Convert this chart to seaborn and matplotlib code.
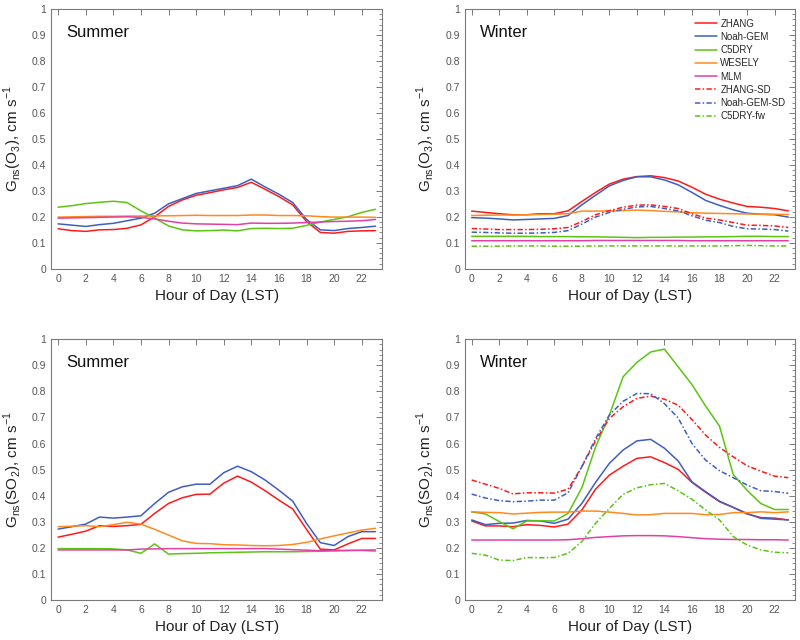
import numpy as np
import pandas as pd
import matplotlib
matplotlib.use("Agg")
import matplotlib.pyplot as plt
from matplotlib.ticker import MultipleLocator
import seaborn as sns

# ---------------------------------------------------------
# DADOS
# ---------------------------------------------------------
hours = list(range(24))

# Summer O3
o3_sum_zhang = [0.154, 0.147, 0.144, 0.150, 0.151, 0.156, 0.169, 0.200, 0.240, 0.265, 0.283, 0.293,
                0.304, 0.313, 0.333, 0.306, 0.278, 0.246, 0.182, 0.140, 0.137, 0.144, 0.146, 0.147]
o3_sum_noah = [0.173, 0.168, 0.163, 0.170, 0.175, 0.185, 0.195, 0.214, 0.250, 0.270, 0.290, 0.300,
               0.310, 0.320, 0.345, 0.315, 0.287, 0.255, 0.190, 0.150, 0.147, 0.155, 0.159, 0.164]
o3_sum_c5dry = [0.237, 0.243, 0.251, 0.256, 0.260, 0.255, 0.223, 0.195, 0.165, 0.150, 0.146, 0.147,
                0.149, 0.146, 0.155, 0.156, 0.155, 0.156, 0.167, 0.180, 0.190, 0.200, 0.217, 0.229]
o3_sum_wesely = [0.199, 0.200, 0.201, 0.202, 0.202, 0.203, 0.203, 0.204, 0.204, 0.205, 0.206, 0.205,
                 0.205, 0.205, 0.207, 0.207, 0.205, 0.205, 0.204, 0.201, 0.199, 0.199, 0.199, 0.198]
o3_sum_mlm = [0.195, 0.196, 0.197, 0.198, 0.199, 0.200, 0.198, 0.192, 0.183, 0.176, 0.173, 0.172,
              0.171, 0.170, 0.176, 0.175, 0.175, 0.176, 0.178, 0.180, 0.182, 0.183, 0.185, 0.190]

# Winter O3
o3_win_zhang = [0.222, 0.217, 0.212, 0.208, 0.208, 0.212, 0.212, 0.223, 0.259, 0.294, 0.326, 0.345,
                0.355, 0.358, 0.351, 0.338, 0.314, 0.287, 0.268, 0.253, 0.240, 0.237, 0.232, 0.223]
o3_win_noah = [0.197, 0.195, 0.192, 0.188, 0.190, 0.192, 0.194, 0.205, 0.246, 0.283, 0.319, 0.340,
               0.354, 0.354, 0.342, 0.323, 0.294, 0.263, 0.244, 0.227, 0.214, 0.210, 0.208, 0.199]
o3_win_c5dry = [0.125, 0.125, 0.125, 0.125, 0.125, 0.124, 0.124, 0.124, 0.123, 0.123, 0.122, 0.121,
                0.120, 0.121, 0.121, 0.122, 0.122, 0.123, 0.123, 0.124, 0.125, 0.125, 0.124, 0.124]
o3_win_wesely = [0.205, 0.206, 0.207, 0.207, 0.208, 0.209, 0.210, 0.212, 0.222, 0.222, 0.223, 0.224,
                 0.226, 0.224, 0.221, 0.219, 0.216, 0.214, 0.213, 0.212, 0.211, 0.210, 0.210, 0.209]
o3_win_mlm = [0.108, 0.108, 0.108, 0.108, 0.108, 0.108, 0.108, 0.108, 0.108, 0.109, 0.109, 0.109,
              0.109, 0.109, 0.109, 0.109, 0.108, 0.108, 0.108, 0.108, 0.108, 0.108, 0.108, 0.108]
o3_win_zhang_sd = [0.155, 0.153, 0.151, 0.151, 0.151, 0.152, 0.154, 0.159, 0.182, 0.208, 0.224, 0.237,
                   0.245, 0.246, 0.240, 0.232, 0.212, 0.195, 0.188, 0.178, 0.168, 0.167, 0.165, 0.159]
o3_win_noah_sd = [0.141, 0.140, 0.138, 0.137, 0.137, 0.138, 0.140, 0.147, 0.172, 0.199, 0.217, 0.229,
                  0.238, 0.240, 0.232, 0.223, 0.204, 0.187, 0.178, 0.163, 0.154, 0.153, 0.151, 0.145]
o3_win_c5dry_fw = [0.087, 0.087, 0.087, 0.088, 0.088, 0.088, 0.087, 0.087, 0.087, 0.088, 0.088, 0.088,
                   0.088, 0.088, 0.088, 0.088, 0.088, 0.088, 0.088, 0.089, 0.090, 0.089, 0.088, 0.088]

# Summer SO2
so2_sum_zhang = [0.241, 0.252, 0.264, 0.285, 0.282, 0.285, 0.290, 0.332, 0.370, 0.392, 0.405, 0.406,
                 0.448, 0.475, 0.452, 0.419, 0.383, 0.349, 0.271, 0.195, 0.192, 0.215, 0.236, 0.236]
so2_sum_noah = [0.272, 0.281, 0.291, 0.318, 0.314, 0.318, 0.323, 0.370, 0.413, 0.434, 0.444, 0.444,
                0.488, 0.513, 0.492, 0.460, 0.421, 0.379, 0.294, 0.220, 0.209, 0.243, 0.262, 0.262]
so2_sum_c5dry = [0.197, 0.197, 0.197, 0.197, 0.196, 0.192, 0.179, 0.215, 0.176, 0.178, 0.179, 0.181,
                 0.182, 0.183, 0.184, 0.185, 0.185, 0.185, 0.186, 0.187, 0.189, 0.190, 0.191, 0.193]
so2_sum_wesely = [0.281, 0.283, 0.285, 0.281, 0.289, 0.298, 0.291, 0.271, 0.249, 0.227, 0.217, 0.216,
                  0.212, 0.211, 0.209, 0.208, 0.209, 0.213, 0.221, 0.234, 0.246, 0.257, 0.268, 0.275]
so2_sum_mlm = [0.192, 0.192, 0.192, 0.192, 0.192, 0.192, 0.195, 0.196, 0.197, 0.197, 0.197, 0.197,
               0.197, 0.197, 0.197, 0.197, 0.195, 0.193, 0.191, 0.189, 0.189, 0.190, 0.190, 0.188]

# Winter SO2
so2_win_zhang = [0.303, 0.284, 0.284, 0.281, 0.289, 0.286, 0.280, 0.291, 0.345, 0.425, 0.479, 0.513,
                 0.543, 0.549, 0.527, 0.501, 0.451, 0.413, 0.377, 0.355, 0.330, 0.316, 0.314, 0.307]
so2_win_noah = [0.307, 0.289, 0.294, 0.295, 0.305, 0.303, 0.294, 0.310, 0.370, 0.451, 0.524, 0.575,
                0.610, 0.616, 0.582, 0.533, 0.453, 0.415, 0.379, 0.355, 0.332, 0.313, 0.310, 0.307]
so2_win_c5dry = [0.338, 0.330, 0.301, 0.273, 0.303, 0.304, 0.303, 0.332, 0.430, 0.587, 0.709, 0.856,
                 0.911, 0.951, 0.962, 0.894, 0.826, 0.743, 0.667, 0.481, 0.421, 0.370, 0.347, 0.347]
so2_win_wesely = [0.338, 0.336, 0.335, 0.330, 0.333, 0.336, 0.337, 0.337, 0.341, 0.341, 0.337, 0.332,
                  0.326, 0.327, 0.332, 0.332, 0.332, 0.327, 0.328, 0.335, 0.335, 0.338, 0.335, 0.338]
so2_win_mlm = [0.230, 0.230, 0.230, 0.230, 0.230, 0.230, 0.230, 0.231, 0.235, 0.240, 0.243, 0.246,
               0.247, 0.247, 0.246, 0.243, 0.239, 0.235, 0.233, 0.232, 0.232, 0.231, 0.231, 0.230]
so2_win_zhang_sd = [0.460, 0.444, 0.428, 0.407, 0.411, 0.411, 0.410, 0.425, 0.511, 0.610, 0.696, 0.741,
                    0.773, 0.782, 0.770, 0.747, 0.692, 0.632, 0.585, 0.549, 0.515, 0.494, 0.475, 0.469]
so2_win_noah_sd = [0.406, 0.391, 0.381, 0.377, 0.379, 0.383, 0.383, 0.411, 0.511, 0.619, 0.709, 0.762,
                   0.792, 0.791, 0.753, 0.698, 0.600, 0.536, 0.496, 0.469, 0.441, 0.419, 0.416, 0.409]
so2_win_c5dry_fw = [0.179, 0.172, 0.153, 0.151, 0.163, 0.162, 0.163, 0.179, 0.224, 0.294, 0.351, 0.405,
                    0.430, 0.442, 0.447, 0.419, 0.386, 0.345, 0.307, 0.243, 0.211, 0.192, 0.183, 0.181]

# ---------------------------------------------------------
# ESTILO
# ---------------------------------------------------------
sns.set_theme(style="white")
plt.rcParams['font.family'] = ['Liberation Sans', 'DejaVu Sans']

tracejado = (0, (3.5, 1.5, 1, 1.5))
estilos = {
    'ZHANG': ('#ff1a1a', '-'),
    'Noah-GEM': ('#3f5fbf', '-'),
    'C5DRY': ('#5cc414', '-'),
    'WESELY': ('#ff8a1f', '-'),
    'MLM': ('#e23fa6', '-'),
    'ZHANG-SD': ('#ff1a1a', tracejado),
    'Noah-GEM-SD': ('#3f5fbf', tracejado),
    'C5DRY-fw': ('#5cc414', tracejado),
}

lab_o3 = "G$_{\\mathregular{ns}}$(O$_{\\mathregular{3}}$), cm s$^{\\mathregular{-1}}$"
lab_so2 = "G$_{\\mathregular{ns}}$(SO$_{\\mathregular{2}}$), cm s$^{\\mathregular{-1}}$"

paineis = [
    ("Summer", lab_o3,
     {'ZHANG': o3_sum_zhang, 'Noah-GEM': o3_sum_noah, 'C5DRY': o3_sum_c5dry,
      'WESELY': o3_sum_wesely, 'MLM': o3_sum_mlm}),
    ("Winter", lab_o3,
     {'ZHANG': o3_win_zhang, 'Noah-GEM': o3_win_noah, 'C5DRY': o3_win_c5dry,
      'WESELY': o3_win_wesely, 'MLM': o3_win_mlm, 'ZHANG-SD': o3_win_zhang_sd,
      'Noah-GEM-SD': o3_win_noah_sd, 'C5DRY-fw': o3_win_c5dry_fw}),
    ("Summer", lab_so2,
     {'ZHANG': so2_sum_zhang, 'Noah-GEM': so2_sum_noah, 'C5DRY': so2_sum_c5dry,
      'WESELY': so2_sum_wesely, 'MLM': so2_sum_mlm}),
    ("Winter", lab_so2,
     {'ZHANG': so2_win_zhang, 'Noah-GEM': so2_win_noah, 'C5DRY': so2_win_c5dry,
      'WESELY': so2_win_wesely, 'MLM': so2_win_mlm, 'ZHANG-SD': so2_win_zhang_sd,
      'Noah-GEM-SD': so2_win_noah_sd, 'C5DRY-fw': so2_win_c5dry_fw}),
]

# posições dos eixos (fração da figura)
posicoes = [
    [0.064, 0.580, 0.414, 0.406],
    [0.581, 0.580, 0.413, 0.406],
    [0.064, 0.0625, 0.414, 0.4075],
    [0.581, 0.0625, 0.413, 0.4075],
]

fig = plt.figure(figsize=(8, 6.4), dpi=100)
cinza = '#7a7a7a'

for i, (estacao, ylab, series) in enumerate(paineis):
    ax = fig.add_axes(posicoes[i])
    for nome, valores in series.items():
        cor, ls = estilos[nome]
        sns.lineplot(x=hours, y=valores, ax=ax, color=cor, linestyle=ls,
                     linewidth=1.1, label=nome, legend=False)
    ax.set_xlim(-0.5, 23.5)
    ax.set_ylim(0, 1)
    ax.xaxis.set_major_locator(MultipleLocator(2))
    ax.yaxis.set_major_locator(MultipleLocator(0.1))
    ax.yaxis.set_minor_locator(MultipleLocator(0.02))
    ax.yaxis.set_major_formatter(plt.FuncFormatter(lambda v, p: f"{v:g}"))
    ax.tick_params(which='both', direction='in', top=True, right=True,
                   color=cinza, labelcolor='#555555', labelsize=7.5)
    ax.tick_params(which='major', length=4, width=0.7)
    ax.tick_params(which='minor', length=2, width=0.6)
    for s in ax.spines.values():
        s.set_color(cinza)
        s.set_linewidth(0.8)
    ax.set_xlabel("Hour of Day (LST)", fontsize=11, color='#222222')
    ax.set_ylabel(ylab, fontsize=11, color='#222222', labelpad=6)
    ax.text(0.045, 0.91, estacao, transform=ax.transAxes, fontsize=12,
            va='center', ha='left', color='#111111')
    if i == 1:
        ax.legend(loc='upper right', frameon=False, fontsize=7, handlelength=2.3,
                  handletextpad=0.3, labelspacing=0.33, borderaxespad=0.6)

plt.savefig("out.png", dpi=100)
